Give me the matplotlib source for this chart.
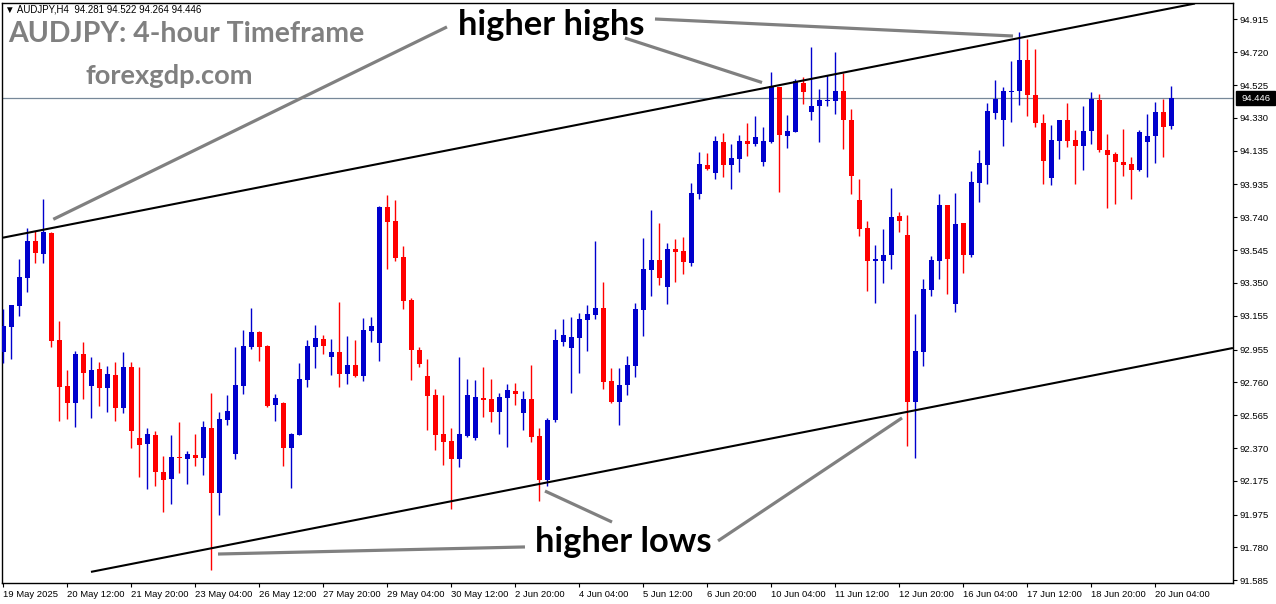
import matplotlib
matplotlib.use("Agg")
import matplotlib.pyplot as plt
from matplotlib.patches import Rectangle

# AUDJPY H4 candles (open, high, low, close)
opens = [92.942, 93.091, 93.214, 93.382, 93.599, 93.524, 93.649, 93.012, 92.739, 92.640,
         92.929, 92.740, 92.840, 92.729, 92.804, 92.610, 92.852, 92.432, 92.396, 92.448,
         92.228, 92.188, 92.317, 92.307, 92.329, 92.313, 92.489, 92.105, 92.539, 92.337,
         92.740, 92.972, 93.059, 92.976, 92.628, 92.638, 92.372, 92.450, 92.776, 92.972,
         93.018, 92.913, 92.941, 92.812, 92.863, 92.800, 93.067, 92.996, 93.801, 93.718,
         93.504, 93.249, 92.952, 92.798, 92.685, 92.454, 92.412, 92.307, 92.444, 92.432,
         92.667, 92.662, 92.586, 92.669, 92.709, 92.580, 92.662, 92.442, 92.182, 92.539,
         93.000, 92.966, 93.025, 93.132, 93.162, 93.202, 92.770, 92.646, 92.746, 92.859,
         93.192, 93.429, 93.488, 93.328, 93.554, 93.542, 93.471, 93.880, 94.052, 94.005,
         94.189, 94.052, 94.088, 94.195, 94.177, 94.070, 94.189, 94.515, 94.224, 94.248,
         94.539, 94.367, 94.403, 94.432, 94.432, 94.490, 94.318, 93.843, 93.677, 93.482,
         93.482, 93.518, 93.748, 93.635, 92.646, 92.942, 93.310, 93.482, 93.813, 93.227,
         93.706, 93.518, 93.945, 94.052, 94.361, 94.319, 94.486, 94.492, 94.674, 94.466,
         94.300, 93.975, 94.195, 94.319, 94.199, 94.165, 94.254, 94.436, 94.140, 94.116,
         94.068, 94.057, 94.023, 94.189, 94.224, 94.365, 94.281]
highs = [93.194, 93.220, 93.493, 93.675, 93.661, 93.849, 93.655, 93.125, 92.834, 92.945,
         93.000, 92.911, 92.881, 92.857, 92.881, 92.941, 92.881, 92.852, 92.489, 92.472,
         92.323, 92.448, 92.525, 92.353, 92.454, 92.531, 92.697, 92.584, 92.685, 92.970,
         93.071, 93.202, 93.065, 92.982, 92.691, 92.644, 92.460, 92.875, 93.012, 93.101,
         93.041, 93.018, 93.237, 93.035, 93.012, 93.142, 93.148, 93.807, 93.872, 93.843,
         93.570, 93.261, 92.970, 92.899, 92.721, 92.685, 92.491, 92.911, 92.780, 92.774,
         92.852, 92.780, 92.697, 92.751, 92.757, 92.709, 92.863, 92.489, 92.549, 93.077,
         93.136, 93.148, 93.172, 93.220, 93.599, 93.356, 92.847, 92.847, 92.919, 93.233,
         93.619, 93.783, 93.708, 93.589, 93.611, 93.625, 93.945, 94.130, 94.124, 94.224,
         94.242, 94.177, 94.230, 94.302, 94.343, 94.278, 94.604, 94.515, 94.349, 94.563,
         94.575, 94.751, 94.502, 94.585, 94.721, 94.597, 94.383, 93.967, 93.718, 93.576,
         93.671, 93.914, 93.772, 93.754, 93.166, 93.374, 93.510, 93.878, 93.813, 93.884,
         93.706, 94.015, 94.140, 94.419, 94.555, 94.514, 94.668, 94.840, 94.798, 94.739,
         94.353, 94.288, 94.319, 94.419, 94.258, 94.401, 94.486, 94.472, 94.235, 94.128,
         94.266, 94.100, 94.260, 94.353, 94.425, 94.444, 94.522]
lows = [92.873, 92.899, 93.154, 93.298, 93.471, 93.471, 92.972, 92.533, 92.545, 92.497,
        92.663, 92.551, 92.622, 92.586, 92.533, 92.580, 92.372, 92.200, 92.129, 92.147,
        91.993, 92.040, 92.224, 92.159, 92.266, 92.212, 91.648, 91.975, 92.509, 92.307,
        92.693, 92.960, 92.889, 92.616, 92.533, 92.266, 92.135, 92.450, 92.735, 92.847,
        92.930, 92.806, 92.735, 92.752, 92.794, 92.770, 93.000, 92.889, 93.435, 93.482,
        93.198, 92.776, 92.853, 92.479, 92.361, 92.272, 92.010, 92.260, 92.438, 92.420,
        92.556, 92.527, 92.456, 92.378, 92.628, 92.479, 92.408, 92.058, 92.147, 92.527,
        92.978, 92.699, 92.818, 92.948, 93.138, 92.723, 92.640, 92.509, 92.687, 92.794,
        93.037, 93.275, 93.340, 93.227, 93.358, 93.405, 93.453, 93.851, 94.023, 93.969,
        93.981, 93.910, 94.011, 94.106, 94.165, 94.046, 94.183, 93.892, 94.153, 94.248,
        94.414, 94.319, 94.189, 94.403, 94.355, 94.147, 93.880, 93.631, 93.304, 93.233,
        93.352, 93.435, 93.655, 92.384, 92.313, 92.859, 93.275, 93.376, 93.287, 93.180,
        93.411, 93.506, 93.833, 93.940, 94.325, 94.165, 94.308, 94.408, 94.343, 94.278,
        93.940, 93.934, 94.088, 94.159, 93.940, 94.023, 94.177, 94.130, 93.797, 93.821,
        93.987, 93.851, 94.017, 93.981, 94.064, 94.100, 94.264]
closes = [93.095, 93.220, 93.386, 93.599, 93.530, 93.655, 93.008, 92.735, 92.640, 92.929,
          92.818, 92.834, 92.729, 92.810, 92.610, 92.852, 92.473, 92.390, 92.454, 92.230,
          92.182, 92.317, 92.313, 92.335, 92.313, 92.495, 92.105, 92.543, 92.590, 92.745,
          92.976, 93.059, 92.972, 92.622, 92.667, 92.372, 92.454, 92.780, 92.976, 93.024,
          92.978, 92.941, 92.812, 92.863, 92.800, 93.071, 93.095, 93.801, 93.714, 93.500,
          93.245, 92.954, 92.871, 92.681, 92.450, 92.408, 92.307, 92.454, 92.685, 92.673,
          92.657, 92.586, 92.673, 92.715, 92.693, 92.662, 92.438, 92.182, 92.537, 93.012,
          93.041, 93.030, 93.136, 93.166, 93.202, 92.764, 92.646, 92.746, 92.865, 93.198,
          93.435, 93.488, 93.382, 93.554, 93.536, 93.477, 93.886, 94.058, 94.029, 94.195,
          94.052, 94.094, 94.195, 94.177, 94.219, 94.195, 94.521, 94.230, 94.254, 94.551,
          94.486, 94.401, 94.436, 94.436, 94.490, 94.319, 93.987, 93.672, 93.482, 93.491,
          93.516, 93.742, 93.720, 92.646, 92.946, 93.315, 93.487, 93.813, 93.494, 93.700,
          93.518, 93.950, 94.062, 94.371, 94.442, 94.490, 94.490, 94.674, 94.468, 94.302,
          94.076, 94.199, 94.319, 94.195, 94.165, 94.252, 94.444, 94.141, 94.112, 94.070,
          94.052, 94.023, 94.246, 94.223, 94.365, 94.278, 94.446]

date_labels = ["19 May 2025", "20 May 12:00", "21 May 20:00", "23 May 04:00", "26 May 12:00",
               "27 May 20:00", "29 May 04:00", "30 May 12:00", "2 Jun 20:00", "4 Jun 04:00",
               "5 Jun 12:00", "6 Jun 20:00", "10 Jun 04:00", "11 Jun 12:00", "12 Jun 20:00",
               "16 Jun 04:00", "17 Jun 12:00", "18 Jun 20:00", "20 Jun 04:00"]
price_labels = ["94.915", "94.720", "94.525", "94.330", "94.135", "93.935", "93.740", "93.545",
                "93.350", "93.155", "92.955", "92.760", "92.565", "92.370", "92.175", "91.975",
                "91.780", "91.585"]
last_price = 94.446

# channel lines (bar index, price)
upper_channel = [(-0.04, 93.619), (148.96, 95.009)]
lower_channel = [(10.96, 91.635), (153.7, 92.964)]

# grey pointer lines (bar index, price)
pointers = [
    [(6.25, 93.728), (55.46, 94.870)],
    [(77.71, 94.804), (94.84, 94.540)],
    [(81.46, 94.917), (126.21, 94.816)],
    [(26.84, 91.741), (65.21, 91.783)],
    [(67.71, 92.115), (76.09, 91.931)],
    [(89.34, 91.819), (112.34, 92.549)],
]

BULL = "#0000CD"
BEAR = "#FF0000"

W, H = 1276, 604
fig = plt.figure(figsize=(W / 100, H / 100), dpi=100)
fig.patch.set_facecolor("white")
L, R, T, B = 2, 1233, 3, 583
ax = fig.add_axes([L / W, 1 - B / H, (R - L) / W, (B - T) / H])
ax.set_xlim(-0.16, 153.71)
ax.set_ylim(91.569, 95.012)

idx = list(range(len(opens)))
cols = [BULL if c >= o else BEAR for o, c in zip(opens, closes)]
ax.vlines(idx, lows, highs, colors=cols, lw=1.0, zorder=3)
bottoms = [min(o, c) for o, c in zip(opens, closes)]
heights = [max(abs(c - o), 0.006) for o, c in zip(opens, closes)]
ax.bar(idx, heights, bottom=bottoms, width=0.62, color=cols, linewidth=0, zorder=4)

ax.axhline(last_price, color="#778899", lw=0.9, zorder=2)

for line in (upper_channel, lower_channel):
    ax.plot([p[0] for p in line], [p[1] for p in line], color="black", lw=1.5, zorder=5,
            solid_capstyle="butt")
for line in pointers:
    ax.plot([p[0] for p in line], [p[1] for p in line], color="#808080", lw=2.3, zorder=6,
            solid_capstyle="butt")

# axes styling
for s in ax.spines.values():
    s.set_color("black")
    s.set_linewidth(1.0)
ax.yaxis.tick_right()
ax.set_yticks([float(v) for v in price_labels])
ax.set_yticklabels(price_labels, family="Liberation Sans", fontsize=6.8)
ax.set_xticks(list(range(0, 8 * len(date_labels), 8)))
ax.set_xticklabels(date_labels, family="Liberation Sans", fontsize=6.8, ha="left")
ax.tick_params(axis="y", length=3, width=0.8, pad=2)
ax.tick_params(axis="x", length=3, width=0.8, pad=2)

# last price tag
fig.patches.append(Rectangle((1236 / W, 1 - 104.5 / H), 39 / W, 13 / H,
                             transform=fig.transFigure, color="black", zorder=10))
fig.text(1255.5 / W, 1 - 98 / H, f"{last_price:.3f}", color="white", fontsize=6.8,
         family="Liberation Sans", ha="center", va="center", zorder=11)

# texts
fig.text(5 / W, 1 - 10 / H, "\u25bc AUDJPY,H4  94.281 94.522 94.264 94.446", fontsize=7,
         family=["Liberation Sans", "DejaVu Sans"], va="center", ha="left")
fig.text(8 / W, 1 - 34 / H, "AUDJPY: 4-hour Timeframe", fontsize=20.5, color="#808080",
         family="Lato", weight="bold", va="center", ha="left")
fig.text(85 / W, 1 - 76 / H, "forexgdp.com", fontsize=19.6, color="#808080",
         family="Lato", weight="bold", va="center", ha="left")
fig.text(551 / W, 1 - 25 / H, "higher highs", fontsize=24.8, color="black",
         family="Lato", weight="bold", va="center", ha="center")
fig.text(623 / W, 1 - 542 / H, "higher lows", fontsize=24.8, color="black",
         family="Lato", weight="bold", va="center", ha="center")

fig.savefig("out.png", dpi=100, facecolor="white")
